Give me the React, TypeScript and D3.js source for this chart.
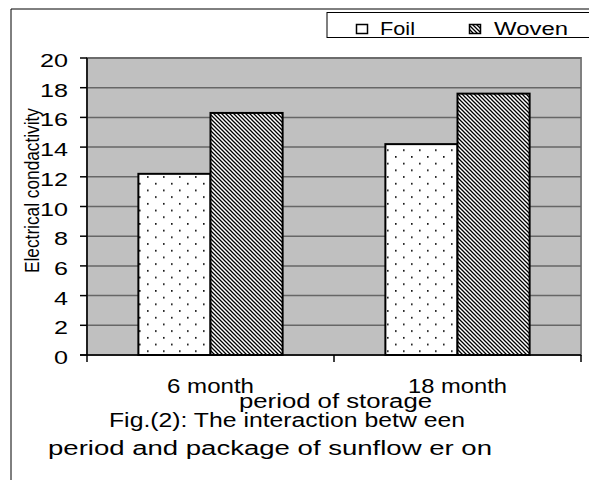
import React from "react";
import * as d3 from "d3";

const categories = ["6 month", "18 month"];
const seriesNames = ["Foil", "Woven"];
const foilValues = [12.2, 14.2];
const wovenValues = [16.3, 17.6];
const yTicks = [0, 2, 4, 6, 8, 10, 12, 14, 16, 18, 20];

const W = 589;
const H = 480;
const plot = { left: 87, top: 58, right: 581, bottom: 355 };
const font = "'Liberation Sans', Arial, sans-serif";

export default function App() {
  const x0 = d3
    .scaleBand<string>()
    .domain(categories)
    .range([plot.left, plot.right])
    .paddingInner(0)
    .paddingOuter(0);
  const groupW = x0.bandwidth() * 0.584;
  const x1 = d3.scaleBand<string>().domain(seriesNames).range([0, groupW]);
  const y = d3.scaleLinear().domain([0, 20]).range([plot.bottom, plot.top]);

  const series = [
    { name: "Foil", values: foilValues, fill: "url(#dots)" },
    { name: "Woven", values: wovenValues, fill: "url(#hatch)" },
  ];

  const catBoundaries = [plot.left, ...categories.map((c) => (x0(c) as number) + x0.bandwidth())];
  const catLabelW = [87, 99];

  return (
    <svg
      width={W}
      height={H}
      style={{ position: "absolute", left: 0, top: 0, background: "#fff" }}
      fontFamily={font}
    >
      <defs>
        <pattern id="dots" width={16} height={13.4} patternUnits="userSpaceOnUse">
          <rect width={16} height={13.4} fill="#fff" />
          <rect x={3} y={2} width={1.6} height={1.6} fill="#000" />
          <rect x={11} y={8.7} width={1.6} height={1.6} fill="#000" />
        </pattern>
        <pattern id="hatch" width={4} height={4} patternUnits="userSpaceOnUse">
          <rect width={4} height={4} fill="#fff" />
          <path d="M-1,-1 L5,5 M-1,3 L1,5 M3,-1 L5,1" stroke="#000" strokeWidth={1.3} />
        </pattern>
      </defs>

      {/* outer frame */}
      <path d={`M11,${H + 2} L11,9 L${W + 2},9`} fill="none" stroke="#000" strokeWidth={1} />

      {/* legend */}
      <rect x={327} y={12.5} width={W} height={25} fill="#fff" stroke="#000" strokeWidth={1} />
      <rect x={356.5} y={24.5} width={11} height={9} fill="url(#dots)" stroke="#000" strokeWidth={1.5} />
      <text x={380} y={35} fontSize={18} fill="#000" textLength={35} lengthAdjust="spacingAndGlyphs">
        {seriesNames[0]}
      </text>
      <rect x={469.5} y={24.5} width={11} height={9} fill="url(#hatch)" stroke="#000" strokeWidth={1.5} />
      <text x={494} y={35} fontSize={18} fill="#000" textLength={74} lengthAdjust="spacingAndGlyphs">
        {seriesNames[1]}
      </text>

      {/* plot area */}
      <rect
        x={plot.left}
        y={plot.top}
        width={plot.right - plot.left}
        height={plot.bottom - plot.top}
        fill="#c0c0c0"
        stroke="#808080"
        strokeWidth={2}
      />
      {yTicks.map((t) => (
        <line
          key={"g" + t}
          x1={plot.left}
          x2={plot.right}
          y1={y(t)}
          y2={y(t)}
          stroke="#666"
          strokeWidth={1.5}
        />
      ))}

      {/* bars */}
      {series.map((s) =>
        categories.map((c, i) => {
          const cx = (x0(c) as number) + x0.bandwidth() / 2 - groupW / 2;
          const bx = cx + (x1(s.name) as number);
          return (
            <rect
              key={s.name + c}
              x={bx}
              y={y(s.values[i])}
              width={x1.bandwidth()}
              height={plot.bottom - y(s.values[i])}
              fill={s.fill}
              stroke="#000"
              strokeWidth={2}
            />
          );
        })
      )}

      {/* axes */}
      <line x1={plot.left} x2={plot.left} y1={plot.top} y2={plot.bottom} stroke="#000" strokeWidth={1.5} />
      <line x1={plot.left - 7} x2={plot.right} y1={plot.bottom} y2={plot.bottom} stroke="#000" strokeWidth={1.5} />
      {yTicks.map((t) => (
        <g key={"t" + t}>
          <line x1={plot.left - 7} x2={plot.left} y1={y(t)} y2={y(t)} stroke="#000" strokeWidth={1.5} />
          <text
            x={68 - String(t).length * 14}
            y={y(t) + 9}
            fontSize={19}
            fill="#000"
            textLength={String(t).length * 14}
            lengthAdjust="spacingAndGlyphs"
          >
            {t}
          </text>
        </g>
      ))}
      {catBoundaries.map((b, i) => (
        <line key={"ct" + i} x1={b} x2={b} y1={plot.bottom} y2={plot.bottom + 7} stroke="#000" strokeWidth={1.5} />
      ))}
      {categories.map((c, i) => (
        <text
          key={"cl" + c}
          x={(x0(c) as number) + x0.bandwidth() / 2 - catLabelW[i] / 2}
          y={393}
          fontSize={19.5}
          fill="#000"
          textLength={catLabelW[i]}
          lengthAdjust="spacingAndGlyphs"
        >
          {c}
        </text>
      ))}

      <text x={239} y={408} fontSize={19.5} fill="#000" textLength={193} lengthAdjust="spacingAndGlyphs">
        period of storage
      </text>
      <g transform={`translate(38.5,190.5) rotate(-90) scale(1,1.1)`}>
        <text
          x={-82.5}
          y={0}
          fontSize={18}
          fill="#000"
          textLength={165}
          lengthAdjust="spacingAndGlyphs"
        >
          Electrical condactivity
        </text>
      </g>
      <text x={109} y={427} fontSize={19.5} fill="#000" textLength={356} lengthAdjust="spacingAndGlyphs">
        Fig.(2): The interaction betw een
      </text>
      <text x={48} y={455} fontSize={19.5} fill="#000" textLength={444} lengthAdjust="spacingAndGlyphs">
        period and package of sunflow er on
      </text>
    </svg>
  );
}
